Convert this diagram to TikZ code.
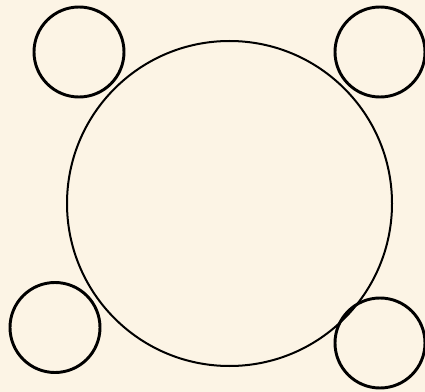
\documentclass[tikz,border=0pt]{standalone}
\definecolor{parchment}{HTML}{FCF4E5}
\begin{document}
\begin{tikzpicture}[x=0.75pt,y=-0.75pt,
  small/.style={circle,draw=black,line width=2.2pt,minimum size=67.5pt,inner sep=0pt},
  big/.style={circle,draw=black,line width=1.5pt,minimum size=243.75pt,inner sep=0pt}]
\fill[parchment] (0,0) rectangle (425,392);
\useasboundingbox (0,0) rectangle (425,392);
\node[big] (main) at (229.5,203.5) {};
\node[small] (tl) at (79,52) {};
\node[small] (tr) at (380,52) {};
\node[small] (bl) at (55,327.5) {};
\node[small] (br) at (380,343) {};
\end{tikzpicture}
\end{document}
